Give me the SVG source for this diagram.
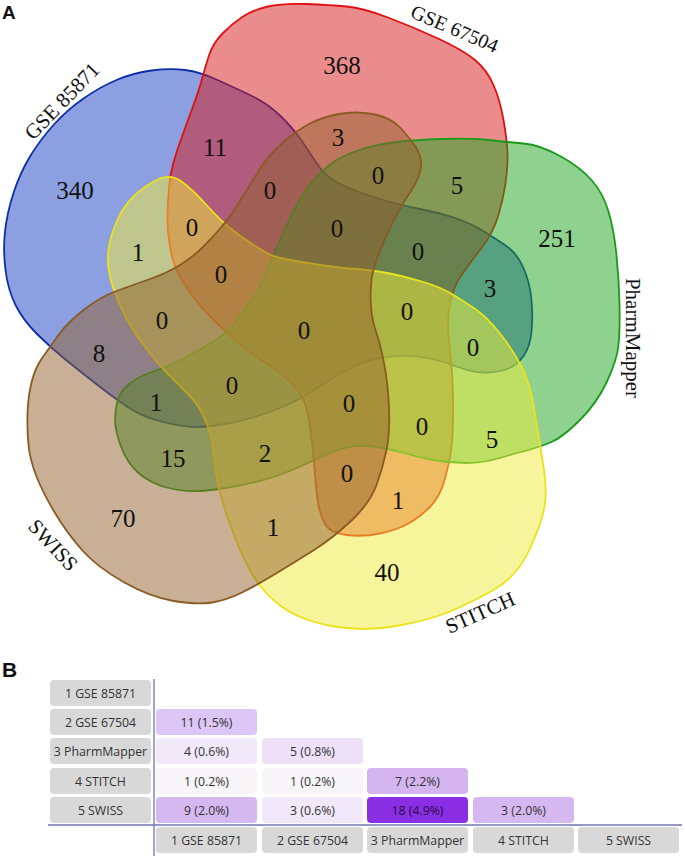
<svg xmlns="http://www.w3.org/2000/svg" width="685" height="858" viewBox="0 0 685 858">
<style>
.set{fill-opacity:0.5;stroke-width:1.8}
.num{font-family:"Liberation Serif","Times New Roman",serif;font-size:25px;fill:#111;text-anchor:middle}
.lab{font-family:"Liberation Serif","Times New Roman",serif;font-size:21px;fill:#111;text-anchor:middle}
.pl{font-family:"Liberation Sans",Arial,sans-serif;font-weight:bold;font-size:19px;fill:#111}
.gb{fill:#d8d8d8}
.tt{font-family:"Open Sans","Noto Sans",sans-serif;font-size:12.3px;fill:#333;text-anchor:middle}
</style>
<rect width="685" height="858" fill="#fff"/>
<text class="pl" x="2" y="18.5">A</text>
<g id="venn">
<g id="set-gse85871">
<path class="set" fill="#1a3fc2" stroke="#0d2fa8" d="M 83.5,98.5 Q 100,87 116.5,80 Q 133,73 151.5,70.5 Q 170,68 185,70 Q 200,72 216.5,79.5 Q 233,87 250,95 Q 267,103 280,115.5 Q 293,128 301.5,140.5 Q 310,153 316.5,163 Q 323,173 331.5,179 Q 340,185 356.5,191 Q 373,197 386.5,201 Q 400,205 420,209 Q 440,213 455,218 Q 470,223 481.5,230 Q 493,237 505,245 Q 517,253 523.5,268 Q 530,283 531.5,300 Q 533,317 531.5,332 Q 530,347 523.5,356 Q 517,365 508.5,368.5 Q 500,372 488.5,372.5 Q 477,373 467,370 Q 457,367 445,362.5 Q 433,358 416.5,356.5 Q 400,355 383.5,357.5 Q 367,360 350,368.5 Q 333,377 316.5,388.5 Q 300,400 277.5,409 Q 255,418 232.5,422.5 Q 210,427 196.5,427 Q 183,427 163,422 Q 143,417 130,408.5 Q 117,400 99.5,386.5 Q 82,373 66,360 Q 50,347 36.5,333.5 Q 23,320 15.5,305 Q 8,290 5.5,270 Q 3,250 5,231.5 Q 7,213 13.5,193 Q 20,173 30,156.5 Q 40,140 53.5,125 Q 67,110 83.5,98.5 Z"/>
<text class="lab" transform="rotate(-46 67 106)" x="67" y="106">GSE 85871</text>
</g>
<g id="set-gse67504">
<path class="set" fill="#d51a1a" stroke="#e01010" d="M 209,55.5 Q 213,43 223,33 Q 233,23 243,16.5 Q 253,10 268,6.5 Q 283,3 306.5,4 Q 330,5 346.5,6.5 Q 363,8 388,17.5 Q 413,27 438,38.5 Q 463,50 475,60 Q 487,70 493.5,85 Q 500,100 503.5,120 Q 507,140 507.5,153.5 Q 508,167 505.5,183.5 Q 503,200 498,216.5 Q 493,233 481.5,248 Q 470,263 461.5,275 Q 453,287 450,303.5 Q 447,320 448.5,335 Q 450,350 451.5,366.5 Q 453,383 453,408 Q 453,433 451.5,446.5 Q 450,460 445,478.5 Q 440,497 430,507 Q 420,517 408.5,523.5 Q 397,530 380,533.5 Q 363,537 346.5,535 Q 330,533 325,524 Q 320,515 318,502.5 Q 316,490 315,475 Q 314,460 312,442.5 Q 310,425 307.5,412.5 Q 305,400 296,388.5 Q 287,377 268.5,365 Q 250,353 238.5,343 Q 227,333 215,321.5 Q 203,310 193,296.5 Q 183,283 178,273 Q 173,263 170,246.5 Q 167,230 167.5,215 Q 168,200 169,187.5 Q 170,175 173.5,162.5 Q 177,150 182,136.5 Q 187,123 193,106.5 Q 199,90 202,79 Q 205,68 209,55.5 Z"/>
<text class="lab" style="font-size:20px" transform="rotate(23 452 35)" x="452" y="35">GSE 67504</text>
</g>
<g id="set-pharmmapper">
<path class="set" fill="#1fa51f" stroke="#1a9a1a" d="M 393,142.5 Q 413,140 441.5,139 Q 470,138 488.5,140 Q 507,142 523.5,143.5 Q 540,145 560,156 Q 580,167 591.5,180 Q 603,193 608.5,211.5 Q 614,230 616.5,255 Q 619,280 619.5,305 Q 620,330 618.5,345 Q 617,360 607,381.5 Q 597,403 580,420 Q 563,437 551.5,442 Q 540,447 528.5,450 Q 517,453 500,458 Q 483,463 466.5,463 Q 450,463 433.5,460 Q 417,457 400,452 Q 383,447 366.5,446 Q 350,445 335,451 Q 320,457 310,462 Q 300,467 283.5,473.5 Q 267,480 242,485 Q 217,490 200,491 Q 183,492 166.5,487.5 Q 150,483 138.5,473 Q 127,463 121,446.5 Q 115,430 115,420 Q 115,410 117.5,401 Q 120,392 128.5,384.5 Q 137,377 152,372 Q 167,367 183.5,358.5 Q 200,350 213.5,341.5 Q 227,333 237,320 Q 247,307 253.5,297 Q 260,287 266.5,272 Q 273,257 281.5,237 Q 290,217 298.5,202 Q 307,187 315,178.5 Q 323,170 331.5,163.5 Q 340,157 356.5,151 Q 373,145 393,142.5 Z"/>
<text class="lab" transform="rotate(90 626 338)" x="626" y="338">PharmMapper</text>
</g>
<g id="set-stitch">
<path class="set" fill="#efec3a" stroke="#ece21a" d="M 156.5,180 Q 170,173 181.5,181.5 Q 193,190 206.5,205 Q 220,220 230,228 Q 240,236 248.5,241.5 Q 257,247 265,252 Q 273,257 290,260 Q 307,263 323.5,265.5 Q 340,268 356.5,269 Q 373,270 390,273.5 Q 407,277 423.5,282 Q 440,287 451,293.5 Q 462,300 474.5,308.5 Q 487,317 500,333.5 Q 513,350 521.5,366.5 Q 530,383 534,408 Q 538,433 542.5,460 Q 547,487 545,503.5 Q 543,520 530,548.5 Q 517,577 493.5,590 Q 470,603 450,611.5 Q 430,620 396.5,626 Q 363,632 331.5,626 Q 300,620 281.5,606.5 Q 263,593 251.5,573 Q 240,553 228.5,520 Q 217,487 215,466 Q 213,445 210.5,435 Q 208,425 202.5,414 Q 197,403 187,393 Q 177,383 167,373 Q 157,363 143.5,345 Q 130,327 121.5,308.5 Q 113,290 110,276.5 Q 107,263 108.5,250 Q 110,237 116.5,222 Q 123,207 133,197 Q 143,187 156.5,180 Z"/>
<text class="lab" transform="rotate(-24 483 619)" x="483" y="619">STITCH</text>
</g>
<g id="set-swiss">
<path class="set" fill="#915f2b" stroke="#8a5a22" d="M 282,143.5 Q 297,130 310,123.5 Q 323,117 339,114 Q 355,111 372.5,114 Q 390,117 400,127.5 Q 410,138 416,147.5 Q 422,157 421,167 Q 420,177 411.5,190 Q 403,203 396.5,215 Q 390,227 381.5,247 Q 373,267 371.5,280 Q 370,293 371,306.5 Q 372,320 376,331.5 Q 380,343 384,363 Q 388,383 389,408 Q 390,433 386.5,450 Q 383,467 376.5,485 Q 370,503 351.5,520.5 Q 333,538 314,550 Q 295,562 276,573.5 Q 257,585 242,592.5 Q 227,600 212,602.5 Q 197,605 173.5,601 Q 150,597 123.5,582 Q 97,567 82,550 Q 67,533 55,513 Q 43,493 36.5,476.5 Q 30,460 28.5,445 Q 27,430 27.5,413.5 Q 28,397 31.5,382.5 Q 35,368 42.5,357.5 Q 50,347 58.5,335 Q 67,323 83.5,310 Q 100,297 116.5,291 Q 133,285 150,279 Q 167,273 180,265 Q 193,257 203,247 Q 213,237 221.5,227 Q 230,217 240,201 Q 250,185 258.5,171 Q 267,157 282,143.5 Z"/>
<text class="lab" transform="rotate(47 48 550)" x="48" y="550">SWISS</text>
</g>
<g id="counts">
<text class="num" x="75" y="199">340</text>
<text class="num" x="215" y="156">11</text>
<text class="num" x="342" y="74">368</text>
<text class="num" x="338" y="146">3</text>
<text class="num" x="270" y="199">0</text>
<text class="num" x="378" y="184">0</text>
<text class="num" x="457" y="194">5</text>
<text class="num" x="337" y="237">0</text>
<text class="num" x="557" y="247">251</text>
<text class="num" x="138" y="261">1</text>
<text class="num" x="192" y="236">0</text>
<text class="num" x="221" y="283">0</text>
<text class="num" x="418" y="260">0</text>
<text class="num" x="490" y="297">3</text>
<text class="num" x="162" y="329">0</text>
<text class="num" x="304" y="339">0</text>
<text class="num" x="407" y="320">0</text>
<text class="num" x="473" y="356">0</text>
<text class="num" x="99" y="362">8</text>
<text class="num" x="156" y="411">1</text>
<text class="num" x="232" y="394">0</text>
<text class="num" x="349" y="412">0</text>
<text class="num" x="422" y="435">0</text>
<text class="num" x="492" y="448">5</text>
<text class="num" x="173" y="467">15</text>
<text class="num" x="265" y="462">2</text>
<text class="num" x="347" y="482">0</text>
<text class="num" x="398" y="509">1</text>
<text class="num" x="123" y="527">70</text>
<text class="num" x="273" y="536">1</text>
<text class="num" x="387" y="581">40</text>
</g>
</g>
<text class="pl" x="2" y="677" style="font-size:21px">B</text>
<g id="matrix">
<g id="axes">
<line x1="154" y1="679" x2="154" y2="856" stroke="#8484c8" stroke-width="1.5"/>
<line x1="48" y1="825" x2="682" y2="825" stroke="#7474b4" stroke-width="1.5"/>
</g>
<g id="row-labels">
<rect class="gb" x="50" y="680" width="101" height="26" rx="4"/><text class="tt" x="100.5" y="697.5">1 GSE 85871</text>
<rect class="gb" x="50" y="709" width="101" height="26" rx="4"/><text class="tt" x="100.5" y="726.5">2 GSE 67504</text>
<rect class="gb" x="50" y="738" width="101" height="26" rx="4"/><text class="tt" x="100.5" y="755.5">3 PharmMapper</text>
<rect class="gb" x="50" y="768" width="101" height="26" rx="4"/><text class="tt" x="100.5" y="785.5">4 STITCH</text>
<rect class="gb" x="50" y="797" width="101" height="26" rx="4"/><text class="tt" x="100.5" y="814.5">5 SWISS</text>
</g>
<g id="col-labels">
<rect class="gb" x="156" y="827" width="101" height="26" rx="4"/><text class="tt" x="206.5" y="844.5">1 GSE 85871</text>
<rect class="gb" x="262" y="827" width="101" height="26" rx="4"/><text class="tt" x="312.5" y="844.5">2 GSE 67504</text>
<rect class="gb" x="367" y="827" width="101" height="26" rx="4"/><text class="tt" x="417.5" y="844.5">3 PharmMapper</text>
<rect class="gb" x="473" y="827" width="101" height="26" rx="4"/><text class="tt" x="523.5" y="844.5">4 STITCH</text>
<rect class="gb" x="578" y="827" width="101" height="26" rx="4"/><text class="tt" x="628.5" y="844.5">5 SWISS</text>
</g>
<g id="cells">
<rect x="156" y="709" width="101" height="26" rx="4" fill="#dcc6f5"/><text class="tt" x="206.5" y="726.5">11 (1.5%)</text>
<rect x="156" y="738" width="101" height="26" rx="4" fill="#f1e9f9"/><text class="tt" x="206.5" y="755.5">4 (0.6%)</text>
<rect x="262" y="738" width="101" height="26" rx="4" fill="#ede0f8"/><text class="tt" x="312.5" y="755.5">5 (0.8%)</text>
<rect x="156" y="768" width="101" height="26" rx="4" fill="#f7f5f8"/><text class="tt" x="206.5" y="785.5">1 (0.2%)</text>
<rect x="262" y="768" width="101" height="26" rx="4" fill="#f7f5f8"/><text class="tt" x="312.5" y="785.5">1 (0.2%)</text>
<rect x="367" y="768" width="101" height="26" rx="4" fill="#d4b5f0"/><text class="tt" x="417.5" y="785.5">7 (2.2%)</text>
<rect x="156" y="797" width="101" height="26" rx="4" fill="#d6b8f1"/><text class="tt" x="206.5" y="814.5">9 (2.0%)</text>
<rect x="262" y="797" width="101" height="26" rx="4" fill="#f1e9f9"/><text class="tt" x="312.5" y="814.5">3 (0.6%)</text>
<rect x="367" y="797" width="101" height="26" rx="4" fill="#8a2fe4"/><text class="tt" x="417.5" y="814.5" style="fill:#2a0a48">18 (4.9%)</text>
<rect x="473" y="797" width="101" height="26" rx="4" fill="#d6b8f1"/><text class="tt" x="523.5" y="814.5">3 (2.0%)</text>
</g>
</g>
</svg>
